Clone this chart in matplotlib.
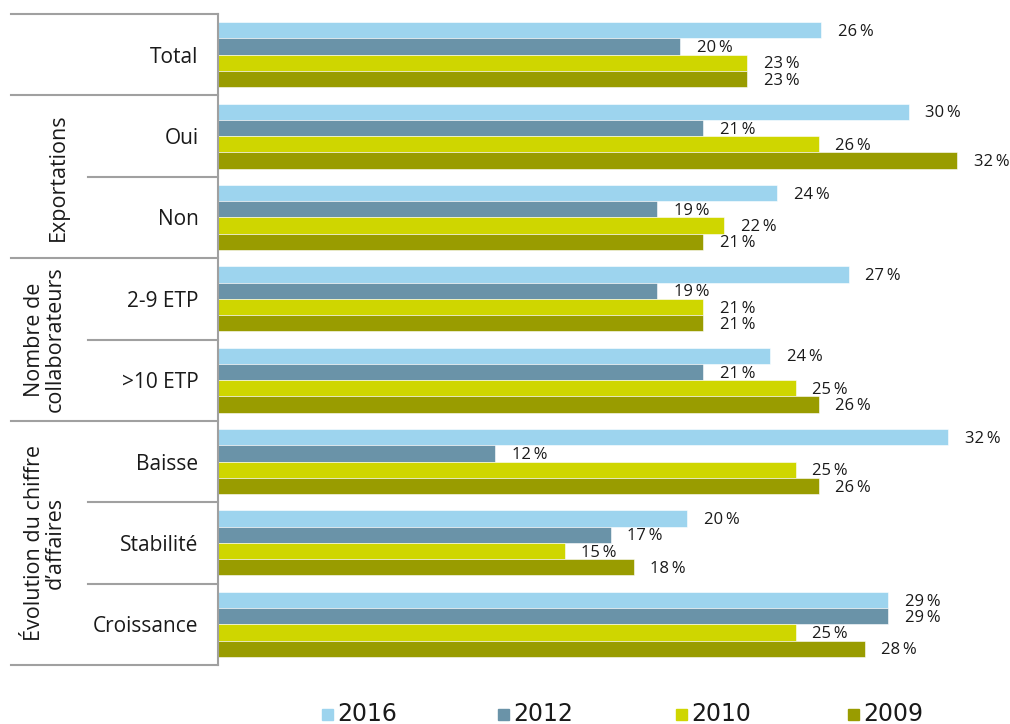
import matplotlib.pyplot as plt
import numpy as np

# data
categories = ["Total", "Oui", "Non", "2-9 ETP", ">10 ETP", "Baisse", "Stabilité", "Croissance"]
years = ["2016", "2012", "2010", "2009"]
v2016 = [26.1, 29.9, 24.2, 27.3, 23.9, 31.6, 20.3, 29.0]
v2012 = [20.0, 21.0, 19.0, 19.0, 21.0, 12.0, 17.0, 29.0]
v2010 = [22.9, 26.0, 21.9, 21.0, 25.0, 25.0, 15.0, 25.0]
v2009 = [22.9, 32.0, 21.0, 21.0, 26.0, 26.0, 18.0, 28.0]
groups = [("Exportations", 1, 2), ("Nombre de\ncollaborateurs", 3, 4),
          ("Évolution du chiffre\nd’affaires", 5, 7)]

colors = ["#9dd4ee", "#6a93a8", "#cfd600", "#999c00"]
font = "Open Sans"

W, H = 1010, 724
fig = plt.figure(figsize=(W / 100, H / 100), dpi=100)
x0, x1, ytop, ybot = 218, 1000, 14, 665
ax = fig.add_axes([x0 / W, 1 - ybot / H, (x1 - x0) / W, (ybot - ytop) / H])
px_per_pct = 23.1
ax.set_xlim(0, (x1 - x0) / px_per_pct)
ax.set_ylim(len(categories) - 0.5, -0.5)

y = np.arange(len(categories))
h = 0.2
offsets = [-0.3, -0.1, 0.1, 0.3]
for vals, yr, c, off in zip([v2016, v2012, v2010, v2009], years, colors, offsets):
    ax.barh(y + off, vals, height=h, color=c, edgecolor="white", linewidth=0.4, label=yr)
    for yi, v in zip(y, vals):
        ax.text(v + 0.72, yi + off + 0.02, f"{round(v)}\u2009%", va="center", ha="left",
                fontsize=12, family=font, color="#1a1a1a")

ax.set_yticks(y)
ax.set_yticklabels(categories, fontsize=15, family=font, color="#1a1a1a")
ax.tick_params(axis="y", length=0, pad=14)
ax.set_xticks([])
for s in ["top", "right", "bottom"]:
    ax.spines[s].set_visible(False)
ax.spines["left"].set_color("#a0a0a0")
ax.spines["left"].set_linewidth(1.5)

# separator lines in the label area
tr = ax.get_yaxis_transform()
far = (11 - x0) / (x1 - x0)
near = (88 - x0) / (x1 - x0)
seps = [(-0.5, far), (0.5, far), (1.5, near), (2.5, far), (3.5, near),
        (4.5, far), (5.5, near), (6.5, near), (7.5, far)]
for yy, xs in seps:
    ax.plot([xs, 0], [yy, yy], transform=tr, color="#a0a0a0", lw=1.5, clip_on=False)

# group labels (rotated)
gx = {"Exportations": 58}
for name, a, b in groups:
    xp = gx.get(name, 45)
    ax.text((xp - x0) / (x1 - x0), (a + b) / 2, name, transform=tr, rotation=90,
            ha="center", va="center", multialignment="center",
            fontsize=15.5, family=font, color="#1a1a1a", linespacing=1.0)

# legend
leg_x = [322, 498, 676, 848]
for lx, yr, c in zip(leg_x, years, colors):
    fig.patches.append(plt.Rectangle((lx / W, 1 - 720 / H), 11 / W, 11 / H,
                                     transform=fig.transFigure, color=c))
    fig.text((lx + 15) / W, 1 - 714 / H, yr, fontsize=17, va="center", ha="left",
             family=["Liberation Sans Narrow", "DejaVu Sans"], color="#1a1a1a")

fig.savefig("out.png", dpi=100)
